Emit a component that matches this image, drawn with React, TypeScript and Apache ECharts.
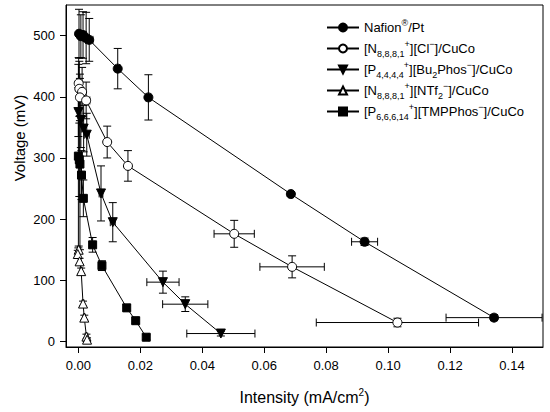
import { useEffect, useRef } from 'react';
import * as echarts from 'echarts';

// series names (plain) and their legend labels (rich text)
const seriesNames = ['nafion', 'cl', 'bu2phos', 'ntf2', 'tmpphos'];
const legendLabels = [
  'Nafion{sup|®}/Pt',
  '[N{sub|8,8,8,1}{sup|+}][Cl{sup|−}]/CuCo',
  '[P{sub|4,4,4,4}{sup|+}][Bu{sub|2}Phos{sup|−}]/CuCo',
  '[N{sub|8,8,8,1}{sup|+}][NTf{sub|2}{sup|−}]/CuCo',
  '[P{sub|6,6,6,14}{sup|+}][TMPPhos{sup|−}]/CuCo'
];

// Nafion / Pt (filled circles)
const nafionX = [0.0002, 0.0008, 0.0015, 0.0025, 0.0035, 0.0127, 0.0226, 0.0686, 0.0924, 0.1342];
const nafionY = [503, 499, 501, 496, 493, 446, 399, 241, 163, 39];
const nafionXErr = [0.0002, 0.0005, 0.001, 0.001, 0.0012, 0.0008, 0.0008, 0.0008, 0.0042, 0.0155];
const nafionYErr = [40, 35, 38, 42, 35, 33, 37, 4, 6, 5];

// [N8881+][Cl-] (open circles)
const clX = [0.0001, 0.0003, 0.0012, 0.0005, 0.0025, 0.0093, 0.016, 0.0503, 0.069, 0.103];
const clY = [422, 413, 408, 399, 394, 326, 287, 176, 122, 31];
const clXErr = [0.0002, 0.0003, 0.0008, 0.0005, 0.0012, 0.0005, 0.0005, 0.0065, 0.0104, 0.0262];
const clYErr = [42, 45, 40, 38, 30, 26, 25, 22, 18, 7];

// [P4444+][Bu2Phos-] (filled down triangles)
const buX = [0.0, 0.0008, 0.0017, 0.0027, 0.0073, 0.0111, 0.0273, 0.0345, 0.046];
const buY = [375, 362, 348, 338, 242, 195, 97, 61, 13];
const buXErr = [0.0003, 0.0004, 0.0006, 0.0008, 0.0006, 0.0008, 0.0052, 0.0073, 0.011];
const buYErr = [40, 45, 38, 35, 45, 32, 18, 12, 4];

// [N8881+][NTf2-] (open up triangles)
const ntfX = [0.0001, -0.0002, 0.0004, 0.0009, 0.0015, 0.0019, 0.0026, 0.0028];
const ntfY = [150, 143, 131, 115, 62, 39, 8, 3];
const ntfXErr = [0.0004, 0.0004, 0.0004, 0.0003, 0.0003, 0.0003, 0.0004, 0.0004];
const ntfYErr = [6, 6, 5, 5, 4, 4, 4, 3];

// [P66614+][TMPPhos-] (filled squares)
const tmpX = [0.0, 0.0003, 0.0005, 0.001, 0.0016, 0.0046, 0.0076, 0.0156, 0.0185, 0.0219];
const tmpY = [303, 297, 290, 272, 234, 158, 124, 55, 34, 7];
const tmpXErr = [0.0003, 0.0003, 0.0004, 0.0004, 0.0005, 0.0006, 0.0006, 0.0008, 0.0007, 0.0007];
const tmpYErr = [150, 60, 140, 40, 30, 12, 8, 5, 5, 4];

const xTicks = [0, 0.02, 0.04, 0.06, 0.08, 0.1, 0.12, 0.14];
const yTicks = [0, 100, 200, 300, 400, 500];

const FONT = '"Liberation Sans", Arial, sans-serif';

const zip = (xs: number[], ys: number[]) => xs.map((x, i) => [x, ys[i]]);

function errorSeries(xs: number[], ys: number[], xe: number[], ye: number[]) {
  return {
    type: 'custom',
    silent: true,
    clip: true,
    z: 1,
    encode: { x: 0, y: 1 },
    data: xs.map((x, i) => [x, ys[i], xe[i], ye[i]]),
    renderItem: (_params: any, api: any) => {
      const x = api.value(0);
      const y = api.value(1);
      const ex = api.value(2);
      const ey = api.value(3);
      const cap = 4;
      const style = { stroke: '#000', lineWidth: 1 };
      const children: any[] = [];
      if (ey > 0) {
        const t = api.coord([x, y + ey]);
        const b = api.coord([x, y - ey]);
        children.push({ type: 'line', shape: { x1: t[0], y1: t[1], x2: b[0], y2: b[1] }, style });
        children.push({ type: 'line', shape: { x1: t[0] - cap, y1: t[1], x2: t[0] + cap, y2: t[1] }, style });
        children.push({ type: 'line', shape: { x1: b[0] - cap, y1: b[1], x2: b[0] + cap, y2: b[1] }, style });
      }
      if (ex > 0) {
        const l = api.coord([x - ex, y]);
        const r = api.coord([x + ex, y]);
        children.push({ type: 'line', shape: { x1: l[0], y1: l[1], x2: r[0], y2: r[1] }, style });
        children.push({ type: 'line', shape: { x1: l[0], y1: l[1] - cap, x2: l[0], y2: l[1] + cap }, style });
        children.push({ type: 'line', shape: { x1: r[0], y1: r[1] - cap, x2: r[0], y2: r[1] + cap }, style });
      }
      return { type: 'group', children };
    }
  };
}

function lineSeries(name: string, xs: number[], ys: number[], symbol: string, size: number, filled: boolean, rotate = 0) {
  return {
    name,
    type: 'line',
    z: 3,
    data: zip(xs, ys),
    symbol,
    symbolSize: size,
    symbolRotate: rotate,
    showAllSymbol: true,
    lineStyle: { color: '#000', width: 1 },
    itemStyle: { color: filled ? '#000' : '#fff', borderColor: '#000', borderWidth: 1 }
  };
}

export default function App() {
  const chartRef = useRef<HTMLDivElement>(null);

  useEffect(() => {
    document.body.style.margin = '0';
    if (!chartRef.current) return;
    const chart = echarts.init(chartRef.current, null, { renderer: 'svg' });

    const labelMap: Record<string, string> = {};
    seriesNames.forEach((n, i) => (labelMap[n] = legendLabels[i]));

    const option: any = {
      animation: false,
      backgroundColor: '#fff',
      grid: {
        left: 66,
        right: 7,
        top: 5,
        bottom: 63,
        show: true,
        borderColor: '#000',
        borderWidth: 1
      },
      legend: {
        data: seriesNames,
        orient: 'vertical',
        left: 321,
        top: 13,
        itemWidth: 32,
        itemHeight: 10,
        itemGap: 2,
        formatter: (n: string) => labelMap[n],
        textStyle: {
          fontFamily: FONT,
          fontSize: 13,
          color: '#000',
          lineHeight: 19,
          rich: {
            sub: { fontFamily: FONT, fontSize: 9, color: '#000', verticalAlign: 'bottom', lineHeight: 19 },
            sup: { fontFamily: FONT, fontSize: 9, color: '#000', verticalAlign: 'top', lineHeight: 19 }
          }
        }
      },
      xAxis: {
        type: 'value',
        min: -0.004,
        max: 0.15,
        name: 'Intensity (mA/cm{sup|2})',
        nameLocation: 'middle',
        nameGap: 40,
        nameTextStyle: {
          fontFamily: FONT,
          fontSize: 16,
          color: '#000',
          lineHeight: 20,
          rich: { sup: { fontFamily: FONT, fontSize: 10, color: '#000', verticalAlign: 'top', lineHeight: 20 } }
        },
        axisLine: { show: true, onZero: false, lineStyle: { color: '#000', width: 1 } },
        axisTick: { show: true, length: 6, customValues: xTicks, lineStyle: { color: '#000' } },
        axisLabel: {
          customValues: xTicks,
          margin: 12,
          fontFamily: FONT,
          fontSize: 13,
          color: '#000',
          formatter: (v: number) => v.toFixed(2)
        },
        splitLine: { show: false }
      },
      yAxis: {
        type: 'value',
        min: -9,
        max: 550,
        axisLine: { show: true, onZero: false, lineStyle: { color: '#000', width: 1 } },
        axisTick: { show: true, length: 6, customValues: yTicks, lineStyle: { color: '#000' } },
        axisLabel: {
          customValues: yTicks,
          margin: 11,
          fontFamily: FONT,
          fontSize: 13,
          color: '#000'
        },
        splitLine: { show: false }
      },
      graphic: [
        {
          type: 'text',
          x: 19,
          y: 138,
          rotation: Math.PI / 2,
          style: {
            text: 'Voltage (mV)',
            fontFamily: FONT,
            fontSize: 15,
            fill: '#000',
            textAlign: 'center',
            textVerticalAlign: 'middle'
          }
        }
      ],
      series: [
        errorSeries(nafionX, nafionY, nafionXErr, nafionYErr),
        errorSeries(clX, clY, clXErr, clYErr),
        errorSeries(buX, buY, buXErr, buYErr),
        errorSeries(ntfX, ntfY, ntfXErr, ntfYErr),
        errorSeries(tmpX, tmpY, tmpXErr, tmpYErr),
        lineSeries('nafion', nafionX, nafionY, 'circle', 9, true),
        lineSeries('cl', clX, clY, 'circle', 9, false),
        lineSeries('bu2phos', buX, buY, 'triangle', 9, true, 180),
        lineSeries('ntf2', ntfX, ntfY, 'triangle', 9, false),
        lineSeries('tmpphos', tmpX, tmpY, 'rect', 8, true)
      ]
    };

    chart.setOption(option);
    return () => chart.dispose();
  }, []);

  return <div ref={chartRef} style={{ width: 550, height: 412 }} />;
}
